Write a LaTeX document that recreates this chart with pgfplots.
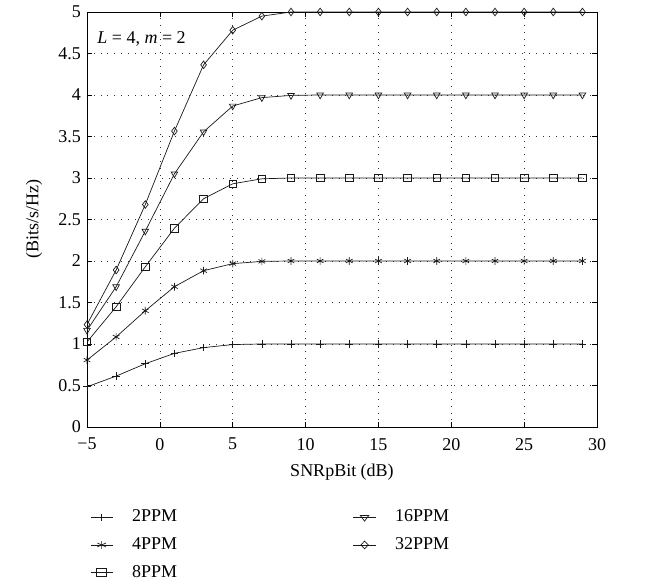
\documentclass[border=0pt]{standalone}
\usepackage{pgfplots}
\pgfplotsset{compat=1.18}
\usepackage{fontspec}
\setmainfont{Liberation Serif}
\usetikzlibrary{calc}

\begin{document}
\fontsize{18}{21}\selectfont
\begin{tikzpicture}
\begin{axis}[
    scale only axis,
    width=510pt, height=415pt,
    xmin=-5, xmax=30, ymin=0, ymax=5,
    xtick={-5,0,...,30},
    ytick={0,0.5,...,5},
    yticklabels={0,0.5,1,1.5,2,2.5,3,3.5,4,4.5,5},
    xticklabels={−5,0,5,10,15,20,25,30},
    tick align=inside,
    major tick length=5pt,
    grid=major,
    grid style={black!80, line width=0.7pt, dash pattern=on 0.8pt off 6pt},
    axis line style={black, line width=0.7pt},
    tick style={black, line width=0.6pt},
    every tick label/.append style={font=\fontsize{18}{21}\selectfont},
    xticklabel style={yshift=-5pt},
    xlabel={SNRpBit (dB)},
    ylabel={(Bits/s/Hz)},
    label style={font=\fontsize{18}{21}\selectfont},
    xlabel style={yshift=-1pt},
    ylabel style={yshift=4pt},
    every axis plot/.append style={black!90, line width=0.7pt, mark size=3.8pt,
        mark options={solid, line width=0.7pt, fill=white}},
    legend columns=3,
    transpose legend,
    legend cell align=left,
    legend style={draw=none, fill=none, at={(0,-0.19)}, anchor=north west,
        font=\fontsize{18}{21}\selectfont,
        row sep=9pt,
        /tikz/every odd column/.append style={column sep=9pt},
        /tikz/every even column/.append style={column sep=174pt}},
    legend image post style={xscale=1.3},
]
\addplot[mark=+] coordinates {
(-5,0.484) (-3,0.613) (-1,0.762) (1,0.887) (3,0.956) (5,0.993) (7,1.0) (9,1.0) (11,1) (13,1) (15,1) (17,1) (19,1) (21,1) (23,1) (25,1) (27,1) (29,1)};
\addplot[mark=asterisk] coordinates {
(-5,0.806) (-3,1.085) (-1,1.40) (1,1.69) (3,1.883) (5,1.968) (7,1.995) (9,2) (11,2) (13,2) (15,2) (17,2) (19,2) (21,2) (23,2) (25,2) (27,2) (29,2)};
\addplot[mark=square] coordinates {
(-5,1.024) (-3,1.448) (-1,1.93) (1,2.395) (3,2.75) (5,2.93) (7,2.99) (9,3) (11,3) (13,3) (15,3) (17,3) (19,3) (21,3) (23,3) (25,3) (27,3) (29,3)};
\addplot[mark=triangle, mark options={rotate=180}] coordinates {
(-5,1.165) (-3,1.69) (-1,2.36) (1,3.05) (3,3.556) (5,3.867) (7,3.968) (9,3.995) (11,4) (13,4) (15,4) (17,4) (19,4) (21,4) (23,4) (25,4) (27,4) (29,4)};
\addplot[mark=diamond] coordinates {
(-5,1.234) (-3,1.891) (-1,2.68) (1,3.565) (3,4.363) (5,4.78) (7,4.95) (9,5) (11,5) (13,5) (15,5) (17,5) (19,5) (21,5) (23,5) (25,5) (27,5) (29,5)};
\legend{\hspace{8pt}2PPM,\hspace{8pt}4PPM,\hspace{8pt}8PPM,\hspace{8pt}16PPM,\hspace{8pt}32PPM}
\node[anchor=west, inner sep=0pt] at (rel axis cs:0.02,0.935) {\textit{L} = 4, \textit{m} = 2};
\end{axis}
\useasboundingbox ($(current axis.south west)+(-87pt,-160pt)$) rectangle ($(current axis.north east)+(48pt,10pt)$);
\end{tikzpicture}
\end{document}
